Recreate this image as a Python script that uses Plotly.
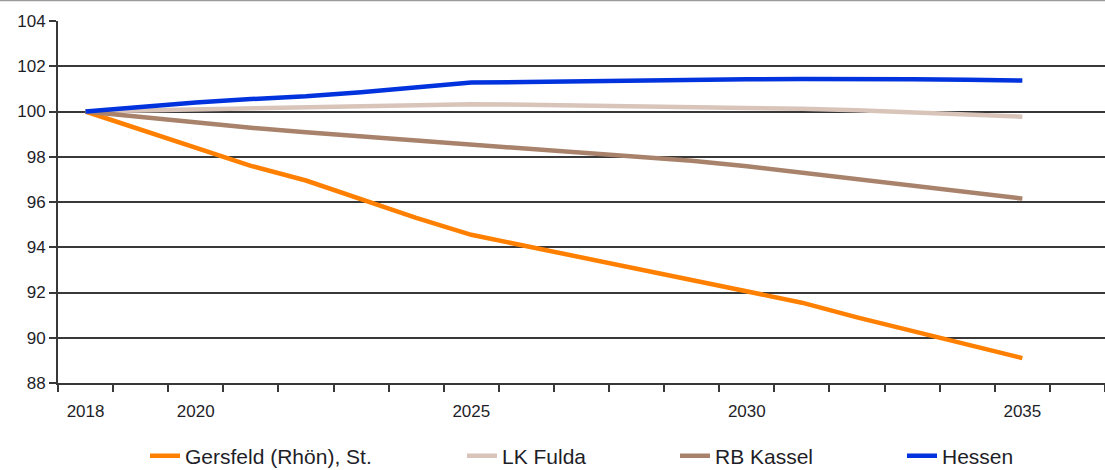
import plotly.graph_objects as go

# Bevölkerungsentwicklung, Index 2018 = 100
years = list(range(2018, 2036))

gersfeld = [100.0, 99.2, 98.4, 97.6, 96.95, 96.1, 95.3, 94.55, 94.05, 93.55,
            93.05, 92.55, 92.05, 91.55, 90.9, 90.3, 89.7, 89.1]
lk_fulda = [100.0, 100.05, 100.1, 100.13, 100.16, 100.2, 100.27, 100.32, 100.3, 100.27,
            100.24, 100.22, 100.18, 100.12, 100.05, 99.97, 99.87, 99.77]
rb_kassel = [100.0, 99.75, 99.5, 99.28, 99.08, 98.9, 98.72, 98.55, 98.38, 98.2,
             98.02, 97.82, 97.58, 97.3, 97.0, 96.72, 96.45, 96.15]
hessen = [100.0, 100.2, 100.4, 100.55, 100.67, 100.85, 101.05, 101.28, 101.3, 101.34,
          101.37, 101.4, 101.42, 101.44, 101.45, 101.43, 101.4, 101.37]

series_names = ["Gersfeld (Rhön), St.", "LK Fulda", "RB Kassel", "Hessen"]
series_values = [gersfeld, lk_fulda, rb_kassel, hessen]
series_colors = ["#FF8000", "#D9C4BA", "#A8826A", "#0033DD"]

x_labels = [2018, 2020, 2025, 2030, 2035]
y_ticks = list(range(88, 105, 2))

FONT = "Liberation Sans, Arial, sans-serif"
TEXT = "#1e1e28"
GRID = "#383838"

# plot-area geometry in pixels (for placing legends / frame)
W, H = 1105, 470
ML, MR, MT, MB = 58, 0, 21, 87
PW, PH = W - ML - MR, H - MT - MB

# legend sample start positions (px) for each entry
legend_px = [150, 467, 680, 907]
legend_y_px = 456

fig = go.Figure()
legend_keys = ["legend", "legend2", "legend3", "legend4"]
for name, vals, col, lk in zip(series_names, series_values, series_colors, legend_keys):
    fig.add_trace(go.Scatter(
        x=years, y=vals, name=name, mode="lines",
        line=dict(color=col, width=4.5),
        legend=lk,
    ))

legend_layout = {}
for lk, px in zip(legend_keys, legend_px):
    legend_layout[lk] = dict(
        x=(px - ML - 5) / PW, xanchor="left",
        y=(MT + PH - legend_y_px) / PH, yanchor="middle",
        orientation="h",
        font=dict(family=FONT, size=21, color=TEXT),
        bgcolor="rgba(0,0,0,0)", borderwidth=0,
        itemwidth=30,
    )

fig.update_layout(
    width=W, height=H,
    margin=dict(l=ML, r=MR, t=MT, b=MB, pad=0, autoexpand=False),
    paper_bgcolor="white", plot_bgcolor="white",
    font=dict(family=FONT, size=17, color=TEXT),
    showlegend=True,
    **legend_layout,
    xaxis=dict(
        range=[2017.5, 2036.5],
        tickmode="array", tickvals=x_labels, ticktext=[str(v) for v in x_labels],
        ticks="outside", ticklen=12, tickcolor="rgba(0,0,0,0)",
        tickfont=dict(family=FONT, size=17, color=TEXT),
        minor=dict(tickmode="array", tickvals=[2017.5 + i for i in range(20)],
                   ticks="outside", ticklen=7, tickwidth=1.5, tickcolor=GRID,
                   showgrid=False),
        showgrid=False, zeroline=False,
        showline=True, linecolor=GRID, linewidth=2,
        fixedrange=True, automargin=False,
    ),
    yaxis=dict(
        range=[88, 104],
        tickmode="array", tickvals=y_ticks,
        ticks="outside", ticklen=7, tickwidth=1.5, tickcolor=GRID,
        tickfont=dict(family=FONT, size=17, color=TEXT),
        showgrid=True, gridcolor=GRID, gridwidth=1.6,
        zeroline=False,
        showline=True, linecolor=GRID, linewidth=2,
        fixedrange=True, automargin=False,
    ),
    shapes=[
        # thin frame line along the top edge of the figure
        dict(type="line", xref="paper", yref="paper",
             x0=-ML / PW, x1=1, y0=(PH + MT - 0.5) / PH, y1=(PH + MT - 0.5) / PH,
             line=dict(color="#9a9a9a", width=1.5)),
    ],
)

fig.write_html("out.html")
